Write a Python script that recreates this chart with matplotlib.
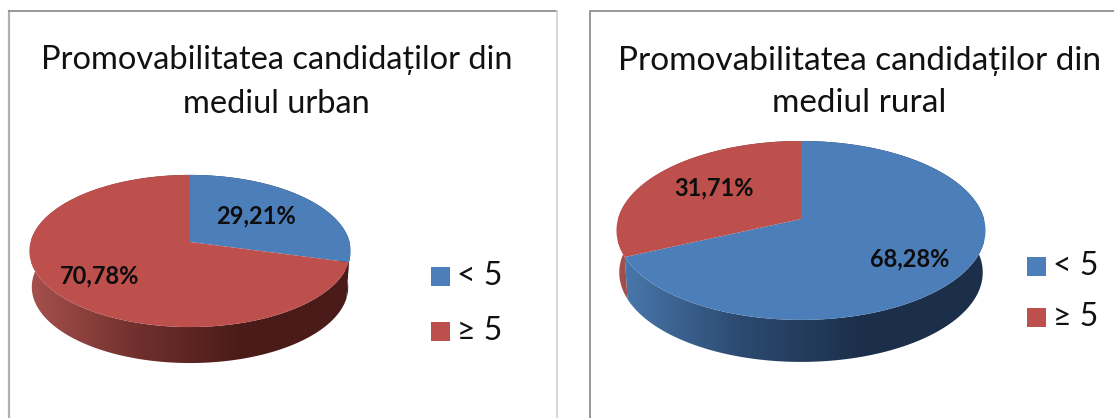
import numpy as np
import matplotlib
matplotlib.use("Agg")
import matplotlib.pyplot as plt
from matplotlib.colors import LinearSegmentedColormap
from matplotlib.patches import Polygon, Rectangle

plt.rcParams["font.family"] = ["Lato", "DejaVu Sans"]

categories = ["< 5", "≥ 5"]
urban_values = [29.21, 70.78]
rural_values = [68.28, 31.71]
urban_labels = ["29,21%", "70,78%"]
rural_labels = ["68,28%", "31,71%"]
urban_title = "Promovabilitatea candidaților din\nmediul urban"
rural_title = "Promovabilitatea candidaților din\nmediul rural"

BLUE = "#4C7EBA"
RED = "#BD4F4C"
SIDE_COLORS = [
    ["#4A79AE", "#2C4A70", "#1C2F4A", "#1C2F4A"],
    ["#A5504D", "#70302D", "#4A1B18", "#4A1B18"],
]


def project(theta, rx, sy, k, cx, cy):
    # unit disc seen in perspective, far side squeezed
    x, y = np.cos(theta), np.sin(theta)
    w = 1 + k * y
    return cx + rx * x / w, cy - sy * y / w


def pie3d(ax, values, labels, label_pos, geom):
    cx, cy, rx, sy, k, depth = geom
    fracs = np.array(values) / np.sum(values)
    edges = np.pi / 2 - 2 * np.pi * np.concatenate([[0], np.cumsum(fracs)])
    left, right = cx - rx, cx + rx

    for i, color in enumerate([BLUE, RED]):
        theta = np.linspace(edges[i], edges[i + 1], 200)
        px, py = project(theta, rx, sy, k, cx, cy)

        # rim, gradient clipped to the extruded arc (bottom edge a bit narrower)
        low_x = cx + (px - cx) * 0.985
        rim = np.column_stack([np.r_[px, low_x[::-1]], np.r_[py, py[::-1] + depth]])
        clip = Polygon(rim, closed=True, transform=ax.transData, fc="none", ec="none")
        ax.add_patch(clip)
        cmap = LinearSegmentedColormap.from_list("side", SIDE_COLORS[i])
        grad = np.linspace(0, 1, 256).reshape(1, -1)
        im = ax.imshow(
            grad, cmap=cmap, aspect="auto", zorder=1,
            extent=[left, right, cy + sy * 1.3 + depth, cy - sy * 1.3],
        )
        im.set_clip_path(clip)

    for i, color in enumerate([BLUE, RED]):
        theta = np.linspace(edges[i], edges[i + 1], 200)
        px, py = project(theta, rx, sy, k, cx, cy)
        ax.fill(np.r_[cx, px], np.r_[cy, py], color=color, lw=0, zorder=2)
        ax.text(
            label_pos[i][0], label_pos[i][1], labels[i], fontsize=17,
            fontweight="bold", color="#0d0d0d", ha="center", va="center", zorder=3,
        )


def legend(ax, x, ys):
    for color, name, y in zip([BLUE, RED], categories, ys):
        ax.add_patch(Rectangle((x, y - 9.5), 19, 19, fc=color, ec="none", zorder=2))
        ax.text(x + 26, y, name, fontsize=23, color="#111111", ha="left", va="center")


fig = plt.figure(figsize=(11.14, 4.18), dpi=100, facecolor="white")
ax = fig.add_axes([0, 0, 1, 1])

# panel frames run off the bottom of the crop
ax.plot([9, 9], [418, 11], color="#b0b0b0", lw=1.6)
ax.plot([9, 557], [11, 11], color="#909090", lw=1.3)
ax.plot([557, 557], [11, 418], color="#d4d4d4", lw=1.3)
ax.plot([590, 590, 1114], [418, 11, 11], color="#909090", lw=1.3)

ax.text(276.5, 82, urban_title, fontsize=23.5, color="#111111", ha="center",
        va="center", linespacing=1.58)
ax.text(859, 82, rural_title, fontsize=24, color="#111111", ha="center",
        va="center", linespacing=1.5)

pie3d(ax, urban_values, urban_labels, [(256, 216), (100, 276)],
      (190, 242, 159.5, 75, 0.118, 36))
pie3d(ax, rural_values, rural_labels, [(910, 259), (714, 188)],
      (801, 219, 183, 88, 0.128, 42))

legend(ax, 431, [276, 331])
legend(ax, 1027, [266, 317])

ax.set_xlim(0, 1114)
ax.set_ylim(418, 0)
ax.axis("off")

fig.savefig("out.png", dpi=100)
